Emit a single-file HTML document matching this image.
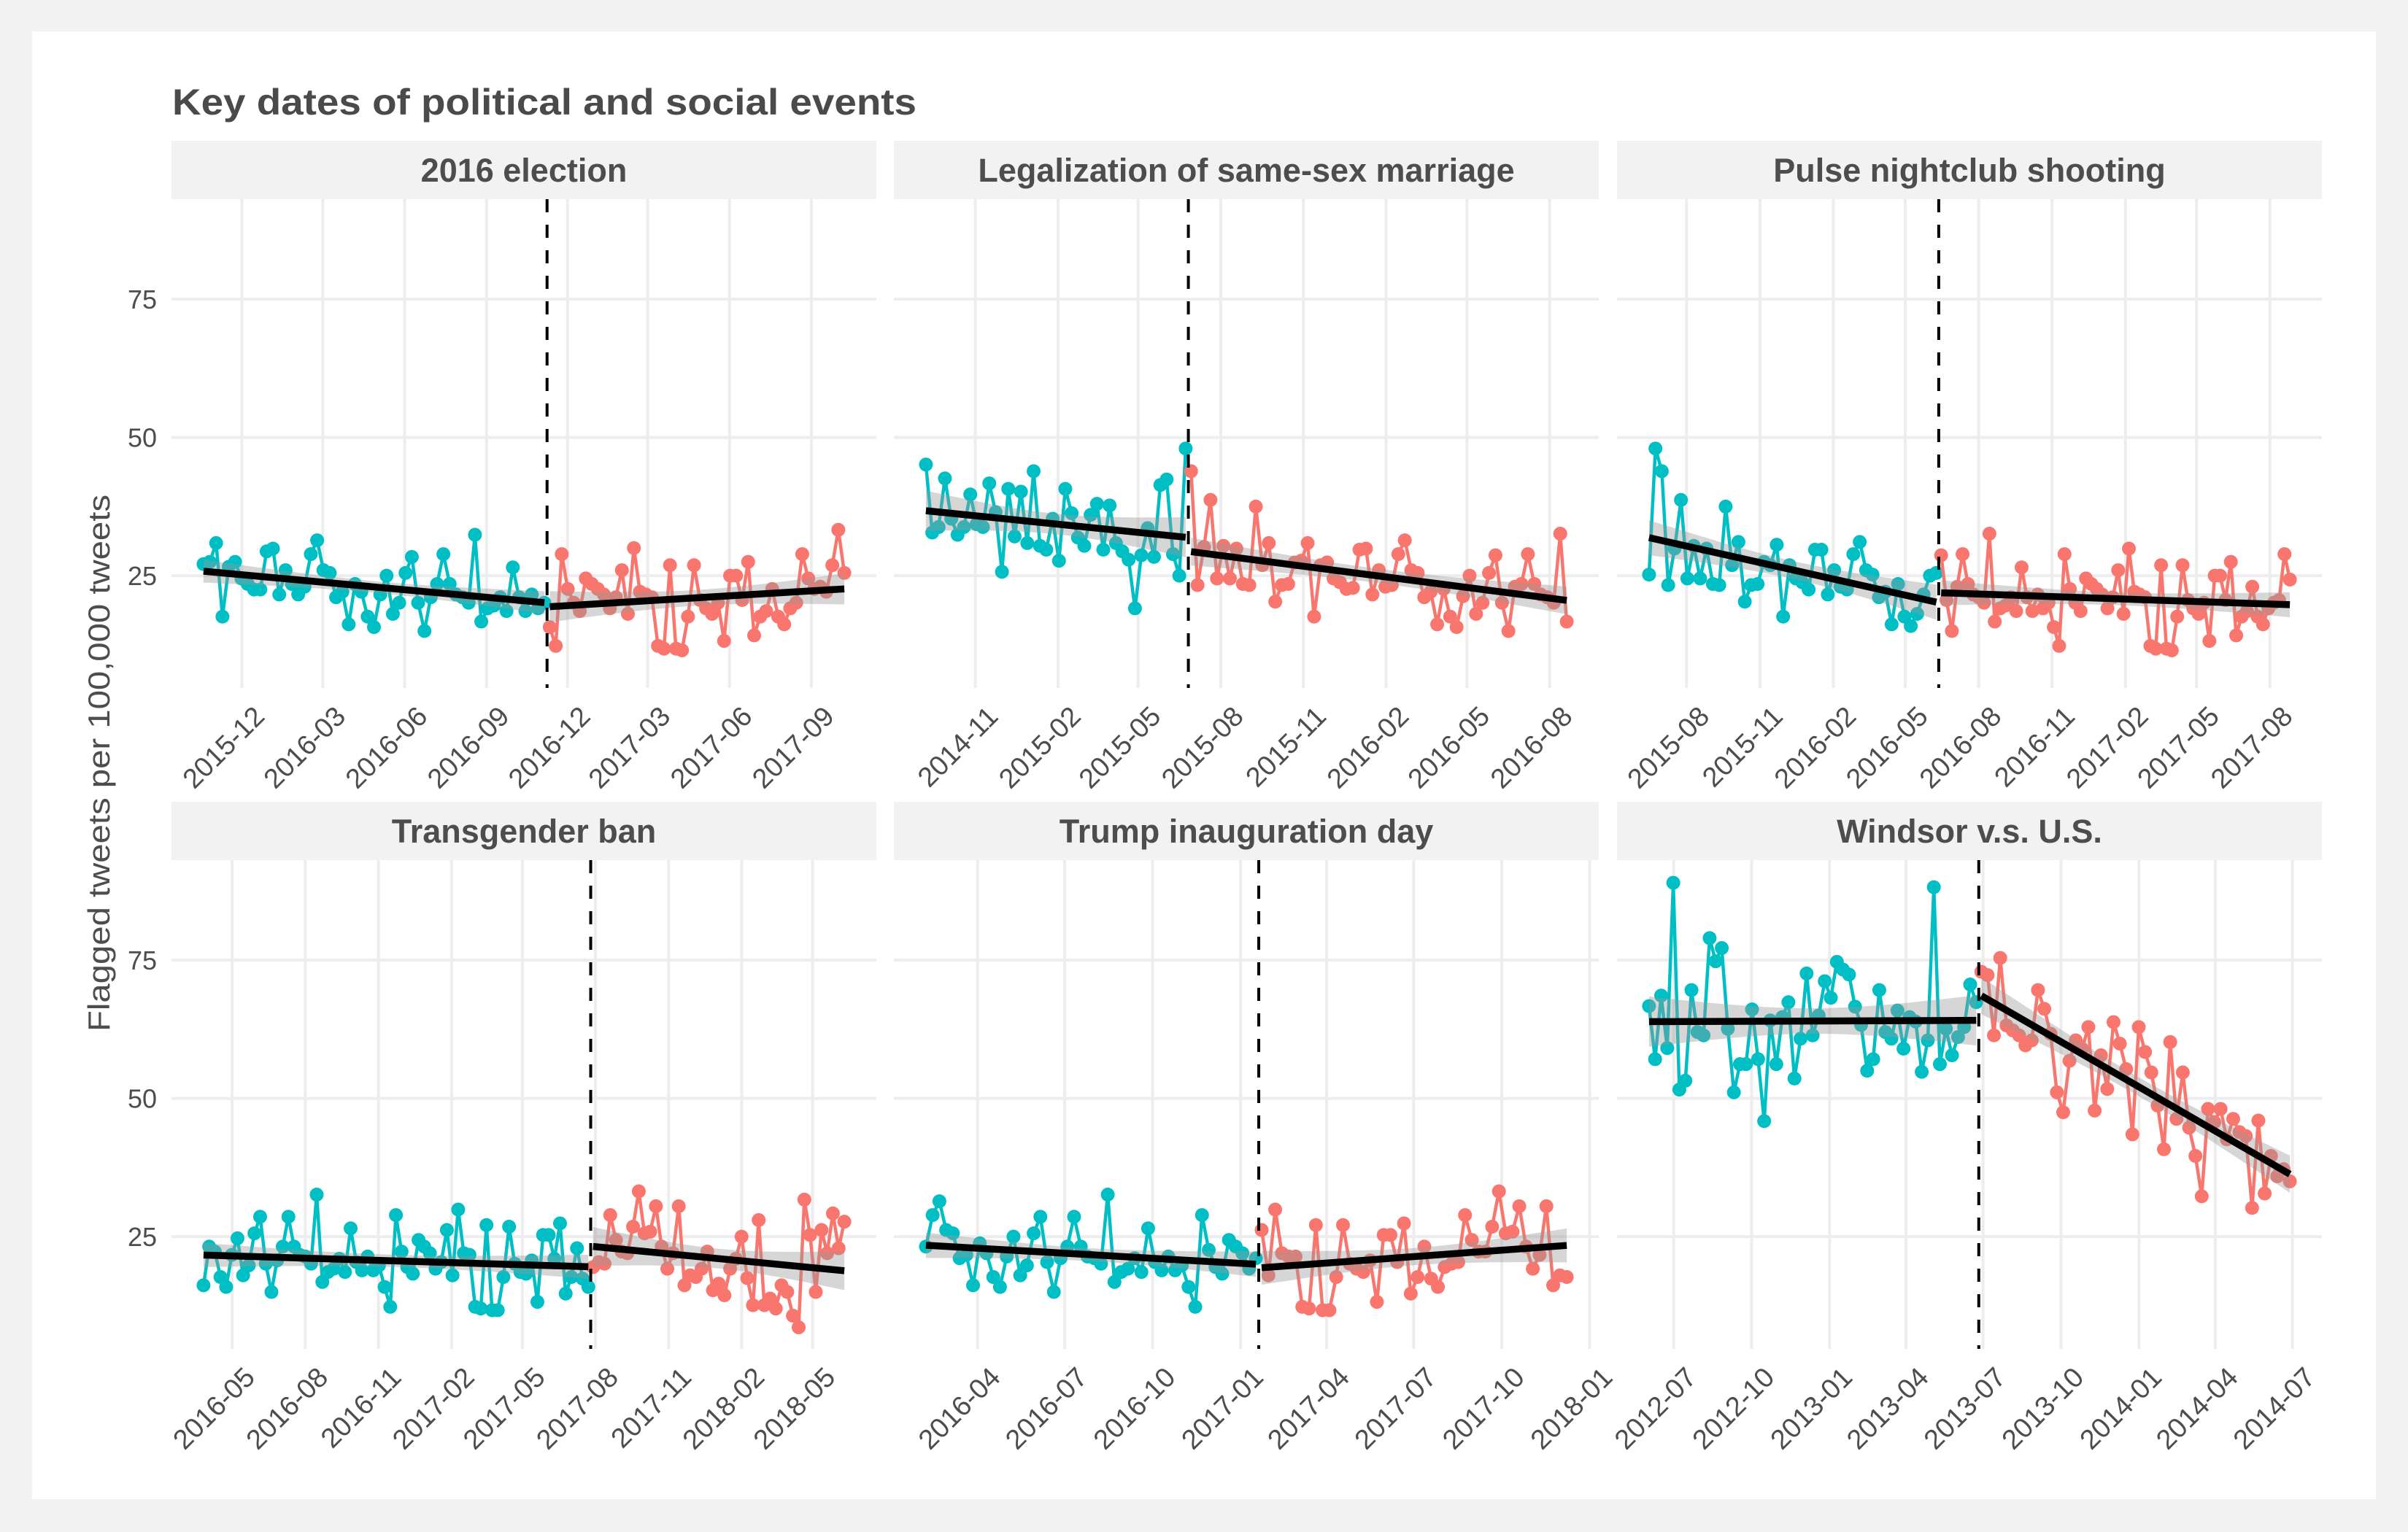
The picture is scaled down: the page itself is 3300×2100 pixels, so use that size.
<!DOCTYPE html>
<html><head><meta charset="utf-8"><title>Key dates of political and social events</title>
<style>html,body{margin:0;padding:0;background:#f2f2f2}svg{display:block;font-family:"Liberation Sans",Arial,sans-serif}</style>
</head><body>
<svg id="chart" xmlns="http://www.w3.org/2000/svg" width="3300" height="2100" viewBox="0 0 3300 2100">
<rect x="0" y="0" width="3300" height="2100" fill="#f2f2f2"/>
<rect x="44" y="43" width="3212" height="2012" fill="#ffffff"/>
<text x="236" y="157" font-size="50" font-weight="bold" fill="#4a4a4a" textLength="1020" lengthAdjust="spacingAndGlyphs">Key dates of political and social events</text>
<text transform="translate(150,1046) rotate(-90)" text-anchor="middle" font-size="42" fill="#4d4d4d" textLength="736" lengthAdjust="spacingAndGlyphs">Flagged tweets per 100,000 tweets</text>
<g id="panels"></g>
</svg>
<script>
const yTicks=[25,50,75];
const electionBefore=[27.1,27.5,30.9,17.6,26.6,27.5,24.5,23.5,22.5,22.5,29.4,29.9,21.6,26.0,23.5,21.6,23.0,28.9,31.4,26.0,25.5,21.1,22.1,16.2,23.5,22.1,17.6,15.7,21.6,25.0,18.1,20.1,25.5,28.4,20.1,15.0,21.1,23.5,28.9,23.5,21.6,21.1,20.1,32.4,16.7,19.1,19.6,21.1,18.6,26.5,21.1,18.6,21.6,19.1,20.1];
const electionAfter=[15.7,12.3,28.9,22.6,20.1,18.6,24.5,23.5,22.6,21.6,19.1,21.1,26.0,18.1,30.0,22.1,21.6,21.1,12.3,11.8,26.9,11.8,11.5,17.6,26.9,20.6,19.1,18.1,20.1,13.2,25.0,25.0,20.6,27.5,14.2,17.6,18.6,22.6,17.6,16.2,19.1,20.1,28.9,24.5,22.6,23.0,22.1,26.9,33.3,25.5];
const marriageBefore=[45.1,32.8,33.8,42.6,35.3,32.4,33.8,39.7,34.3,33.8,41.7,36.5,25.7,40.7,32.1,40.2,30.9,43.9,30.4,29.7,35.3,27.7,40.7,36.3,31.9,30.4,36.0,38.0,29.7,37.7,30.9,29.4,27.9,19.1,28.7,33.6,28.4,41.4,42.4,28.9,25.0,48.0];
const marriageAfter=[43.9,23.3,30.2,38.7,24.5,30.4,24.5,29.9,23.5,23.3,37.5,26.9,30.9,20.3,23.3,23.5,27.4,27.7,30.9,17.6,26.9,27.4,24.5,23.8,22.6,22.8,29.7,29.9,21.6,26.0,23.0,23.3,28.9,31.4,26.0,25.5,21.1,22.1,16.2,22.6,17.6,15.7,21.3,25.0,18.1,20.1,25.5,28.7,20.1,15.0,23.0,23.5,28.9,23.5,21.6,21.1,20.1,32.6,16.7];
const pulseBefore=[25.2,48.0,43.9,23.3,29.9,38.7,24.5,30.4,24.5,29.9,23.5,23.3,37.5,26.9,31.1,20.3,23.3,23.5,27.5,26.9,30.6,17.6,26.9,24.5,23.8,22.5,29.7,29.7,21.6,26.0,23.0,22.5,28.9,31.1,26.0,25.2,21.1,22.1,16.2,23.5,17.6,15.9,18.1,21.6,25.0,25.5];
const pulseAfter=[28.7,20.6,15.0,23.0,28.9,23.5,21.6,21.1,20.1,32.6,16.7,19.1,19.6,21.1,18.6,26.5,21.1,18.6,21.6,19.1,20.1,15.7,12.3,28.9,22.6,20.1,18.6,24.5,23.5,22.6,21.6,19.1,21.1,26.0,18.1,29.9,22.1,21.6,21.1,12.3,11.8,26.9,11.8,11.5,17.6,26.9,20.6,19.1,18.1,20.1,13.2,25.0,25.0,20.6,27.5,14.2,17.6,18.6,23.0,17.6,16.2,19.1,20.1,20.6,28.9,24.3];
const transBefore=[16.2,23.2,22.3,17.7,15.9,21.7,24.7,18.0,19.8,25.6,28.6,20.1,15.0,20.7,23.2,28.6,23.2,21.7,21.4,20.1,32.6,16.8,18.6,19.2,21.0,18.6,26.5,20.4,18.9,21.4,18.9,19.8,15.9,12.3,28.9,22.3,19.5,18.3,24.4,23.2,22.0,19.2,20.4,26.2,18.0,29.9,22.0,21.7,12.3,12.0,27.1,11.7,11.7,17.7,26.8,20.1,18.6,18.3,20.7,13.2,25.3,25.3,21.0,27.4,14.7,17.7,22.9,17.4,15.9];
const transAfter=[19.5,20.4,20.1,28.9,24.4,22.3,22.0,26.8,33.2,25.6,25.9,30.5,23.2,19.2,22.0,30.5,16.2,18.0,17.7,19.2,22.3,15.3,16.5,14.4,19.2,21.0,25.0,17.5,12.6,28.0,12.6,13.8,12.0,16.2,15.0,10.7,8.6,31.7,25.3,15.0,26.2,22.0,29.2,22.9,27.7];
const trumpBefore=[23.2,28.9,31.4,26.2,25.6,21.1,21.7,16.2,23.8,22.0,17.7,15.9,21.4,25.0,18.0,19.8,25.6,28.6,20.4,15.0,21.1,23.2,28.6,23.2,21.4,21.1,20.1,32.6,16.8,18.6,19.2,21.1,18.6,26.5,20.4,18.9,21.4,18.9,19.8,15.9,12.3,28.9,22.6,19.5,18.3,24.4,23.2,22.0,19.2,21.1];
const trumpAfter=[26.2,18.0,29.9,22.0,21.4,21.4,12.3,12.0,27.1,11.7,11.7,17.7,27.1,20.1,19.2,18.6,20.7,13.2,25.3,25.3,20.4,27.4,14.7,17.7,23.2,17.4,15.9,19.5,20.1,20.4,28.9,24.4,22.3,22.3,26.8,33.2,25.6,25.9,30.5,23.2,19.2,21.7,30.5,16.2,18.0,17.7];
const windsorBefore=[66.7,57.1,68.6,59.1,89.0,51.6,53.2,69.6,62.0,61.4,79.0,74.8,77.2,62.6,51.1,56.2,56.2,66.1,57.1,45.9,64.1,56.2,64.7,67.4,53.6,60.8,72.6,61.4,65.0,71.2,68.2,74.7,73.3,72.4,66.6,63.3,55.0,57.1,69.6,62.0,60.8,65.9,59.0,64.7,63.9,54.8,60.5,88.2,56.2,62.6,57.8,61.1,62.9,70.6,67.4];
const windsorAfter=[72.9,72.3,61.4,75.4,63.2,62.3,61.4,59.6,60.5,69.6,66.2,61.7,51.1,47.5,56.8,60.5,59.0,62.9,47.8,57.8,51.7,63.8,59.9,55.3,43.5,62.9,58.4,54.7,48.7,40.8,60.2,46.3,54.7,44.7,39.6,32.3,48.1,45.7,48.1,42.6,46.3,43.9,43.2,30.2,46.0,32.8,39.6,35.9,37.2,35.0];

const panels=[
 {title:'2016 election',slug:'2016-election',col:0,row:0,start:'2015-10-19',event:'2016-11-08',end:'2017-10-08',ticks:['2015-12','2016-03','2016-06','2016-09','2016-12','2017-03','2017-06','2017-09'],before:electionBefore,after:electionAfter},
 {title:'Legalization of same-sex marriage',slug:'same-sex-marriage',col:1,row:0,start:'2014-09-07',event:'2015-06-26',end:'2016-08-20',ticks:['2014-11','2015-02','2015-05','2015-08','2015-11','2016-02','2016-05','2016-08'],before:marriageBefore,after:marriageAfter},
 {title:'Pulse nightclub shooting',slug:'pulse-shooting',col:2,row:0,start:'2015-06-15',event:'2016-06-12',end:'2017-08-26',ticks:['2015-08','2015-11','2016-02','2016-05','2016-08','2016-11','2017-02','2017-05','2017-08'],before:pulseBefore,after:pulseAfter},
 {title:'Transgender ban',slug:'transgender-ban',col:0,row:1,start:'2016-03-26',event:'2017-07-26',end:'2018-06-10',ticks:['2016-05','2016-08','2016-11','2017-02','2017-05','2017-08','2017-11','2018-02','2018-05'],before:transBefore,after:transAfter},
 {title:'Trump inauguration day',slug:'trump-inauguration',col:1,row:1,start:'2016-02-07',event:'2017-01-20',end:'2017-12-08',ticks:['2016-04','2016-07','2016-10','2017-01','2017-04','2017-07','2017-10','2018-01'],before:trumpBefore,after:trumpAfter},
 {title:'Windsor v.s. U.S.',slug:'windsor-vs-us',col:2,row:1,start:'2012-06-02',event:'2013-06-26',end:'2014-06-28',ticks:['2012-07','2012-10','2013-01','2013-04','2013-07','2013-10','2014-01','2014-04','2014-07'],before:windsorBefore,after:windsorAfter}
];

const NS='http://www.w3.org/2000/svg';
const W=966, PH=670, STRIP=80;
const colX=[235,1225,2216];
const stripY=[193,1099];
const yMin=4.7, yMax=93.1;
const CYAN='#00BFC4', RED='#F8766D';
const root=document.getElementById('panels');
function mk(tag,attrs,parent){const e=document.createElementNS(NS,tag);for(const k in attrs)e.setAttribute(k,attrs[k]);parent.appendChild(e);return e;}
function ms(s){const p=s.split('-').map(Number);return Date.UTC(p[0],p[1]-1,p[2]||1);}
function fit(vals){const n=vals.length;let mx=(n-1)/2,my=0;vals.forEach(v=>my+=v);my/=n;let sxx=0,sxy=0;vals.forEach((v,i)=>{sxx+=(i-mx)*(i-mx);sxy+=(i-mx)*(v-my);});const b=sxy/sxx,a=my-b*mx;let sse=0;vals.forEach((v,i)=>{const r=v-(a+b*i);sse+=r*r;});const s=Math.sqrt(sse/(n-2));return {a,b,s,n,mx,sxx};}

panels.forEach(p=>{
 const left=colX[p.col], sTop=stripY[p.row], top=sTop+STRIP, bottom=top+PH;
 const t0=ms(p.start), t1=ms(p.end), te=ms(p.event), span=t1-t0;
 const lo=t0-0.05*span, hi=t1+0.05*span;
 const xS=t=>left+(t-lo)/(hi-lo)*W;
 const yS=v=>top+PH-(v-yMin)/(yMax-yMin)*PH;
 const g=mk('g',{},root);
 
 
 const strip=mk('rect',{x:left,y:sTop,width:W,height:STRIP,fill:'#f2f2f2'},g);
 
 
 const st=mk('text',{x:left+W/2,y:sTop+56,'text-anchor':'middle','font-size':45,'font-weight':'bold',fill:'#4d4d4d'},g);
 st.textContent=p.title;
 
 
 yTicks.forEach(v=>{
  const l=mk('line',{x1:left,x2:left+W,y1:yS(v),y2:yS(v),stroke:'#ededed','stroke-width':4},g);
  
  
  if(p.col===0){
   const tl=mk('text',{x:left-20,y:yS(v)+13,'text-anchor':'end','font-size':36,fill:'#4d4d4d'},g);
   tl.textContent=v;
   
   
  }
 });
 p.ticks.forEach(tk=>{
  const x=xS(ms(tk));
  const l=mk('line',{x1:x,x2:x,y1:top,y2:bottom,stroke:'#ededed','stroke-width':4},g);
  
  
  const ax=x+14, ay=bottom+22;
  const tl=mk('text',{x:ax,y:ay,dy:'0.72em','text-anchor':'end','font-size':38,fill:'#4d4d4d',transform:'rotate(-45 '+ax+' '+ay+')'},g);
  tl.textContent=tk;
  
  
 });
 const day=86400000;
 const segs=[{vals:p.before,a:t0,b:te-3*day,c:CYAN,name:'before'},{vals:p.after,a:te+3*day,b:t1,c:RED,name:'after'}];
 segs.forEach(sg=>{
  const n=sg.vals.length;
  const xi=i=>xS(sg.a+(sg.b-sg.a)*i/(n-1));
  const pts=sg.vals.map((v,i)=>xi(i).toFixed(1)+','+yS(v).toFixed(1)).join(' ');
  const pl=mk('polyline',{points:pts,fill:'none',stroke:sg.c,'stroke-width':4.5,'stroke-linejoin':'round'},g);
  
  
  sg.vals.forEach((v,i)=>{
   const c=mk('circle',{cx:xi(i),cy:yS(v),r:9.5,fill:sg.c},g);
   
   
  });
 });
 segs.forEach(sg=>{
  const n=sg.vals.length;
  const xi=i=>xS(sg.a+(sg.b-sg.a)*i/(n-1));
  const f=fit(sg.vals);
  const up=[],dn=[];
  for(let k=0;k<=20;k++){const i=(n-1)*k/20;const yh=f.a+f.b*i;const se=f.s*Math.sqrt(1/f.n+(i-f.mx)*(i-f.mx)/f.sxx)*1.99;up.push(xi(i).toFixed(1)+','+yS(yh+se).toFixed(1));dn.unshift(xi(i).toFixed(1)+','+yS(yh-se).toFixed(1));}
  const rb=mk('polygon',{points:up.concat(dn).join(' '),fill:'#999999','fill-opacity':0.4},g);
  
  
  const tl=mk('line',{x1:xi(0),y1:yS(f.a),x2:xi(n-1),y2:yS(f.a+f.b*(n-1)),stroke:'#000','stroke-width':9.5},g);
  
  
 });
 const vx=xS(te);
 const vl=mk('line',{x1:vx,x2:vx,y1:top,y2:bottom,stroke:'#000','stroke-width':4,'stroke-dasharray':'18 17'},g);
 
 
});
</script>
</body></html>
